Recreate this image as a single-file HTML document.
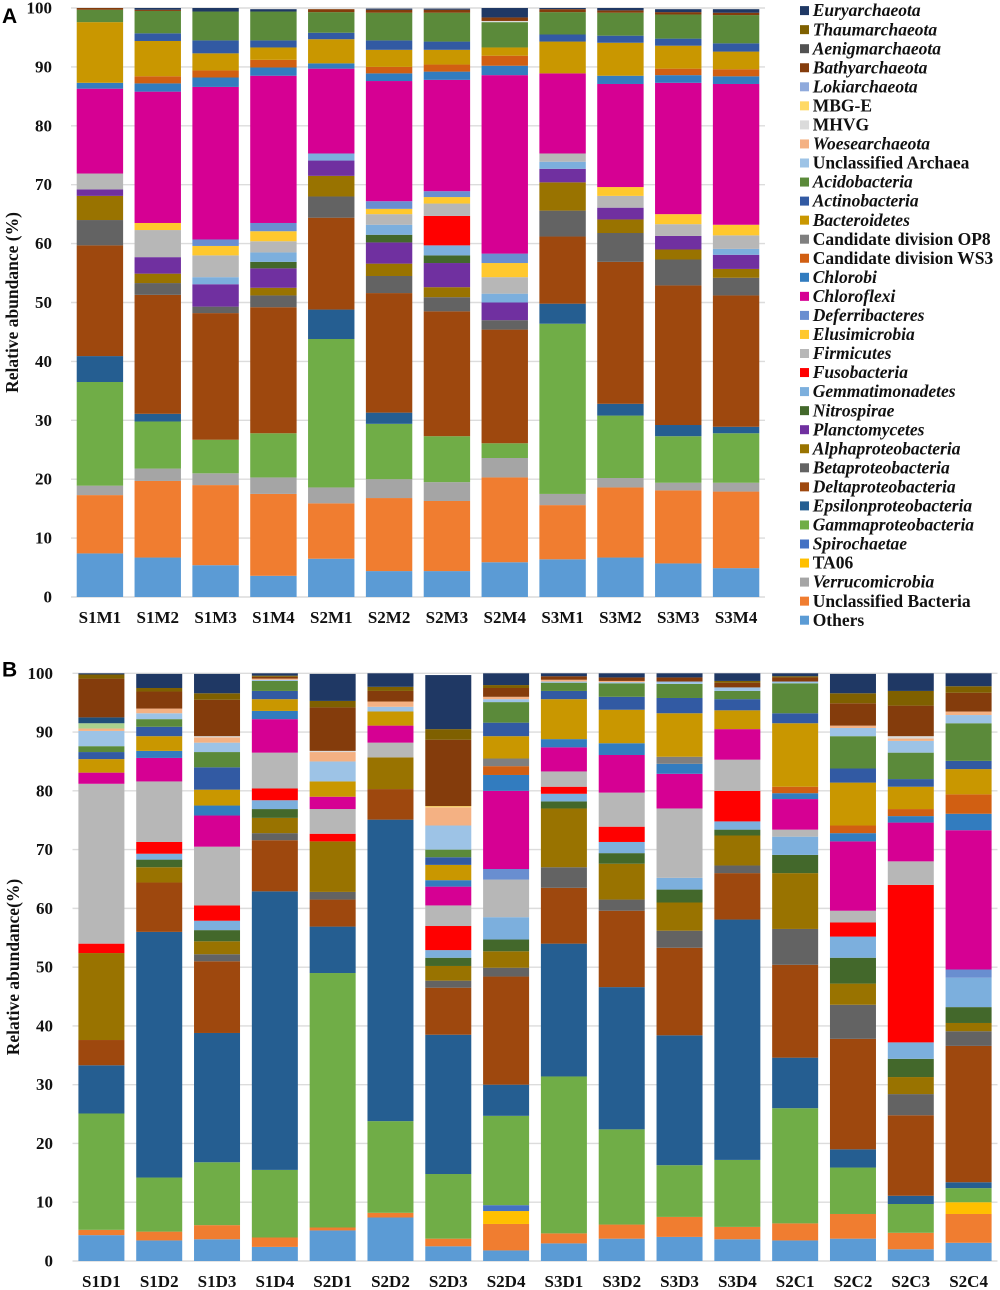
<!DOCTYPE html>
<html lang="en">
<head>
<meta charset="utf-8">
<title>Relative abundance stacked bars</title>
<style>
html,body{margin:0;padding:0;background:#fff;}
#chart{display:block;width:1000px;height:1290px;}
text{font-family:"Liberation Serif",serif;font-weight:bold;fill:#111;}
.panel{font-family:"Liberation Sans",sans-serif;font-size:21px;fill:#000;}
</style>
</head>
<body>
<svg id="chart" xmlns="http://www.w3.org/2000/svg" width="1000" height="1290" viewBox="0 0 1000 1290">
  <text class="panel" x="2" y="23">A</text>
  <text class="panel" x="2" y="676.5">B</text>
  <text transform="translate(18,302.5) rotate(-90)" text-anchor="middle" font-size="17.5">Relative abundance (%)</text>
  <text transform="translate(19,967) rotate(-90)" text-anchor="middle" font-size="17.5">Relative abundance(%)</text>
</svg>
<script>
// ---------- Shared labels ----------
const yTicks = [0, 10, 20, 30, 40, 50, 60, 70, 80, 90, 100];

const legendNames = ['Euryarchaeota','Thaumarchaeota','Aenigmarchaeota','Bathyarchaeota','Lokiarchaeota','MBG-E','MHVG','Woesearchaeota','Unclassified Archaea','Acidobacteria','Actinobacteria','Bacteroidetes','Candidate division OP8','Candidate division WS3','Chlorobi','Chloroflexi','Deferribacteres','Elusimicrobia','Firmicutes','Fusobacteria','Gemmatimonadetes','Nitrospirae','Planctomycetes','Alphaproteobacteria','Betaproteobacteria','Deltaproteobacteria','Epsilonproteobacteria','Gammaproteobacteria','Spirochaetae','TA06','Verrucomicrobia','Unclassified Bacteria','Others'];
const legendColors = ['#1f3864','#7f6000','#525252','#843c0c','#8faadc','#ffd966','#dbdbdb','#f4b183','#9dc3e6','#5b8a3a','#325aa3','#c99700','#7f7f7f','#d15f12','#327cbf','#d60093','#698ed0','#ffc82e','#b7b7b7','#ff0000','#7cafdd','#43682b','#7030a0','#997300','#636363','#9e480e','#255e91','#70ad47','#4472c4','#ffc000','#a5a5a5','#f07d30','#5b9bd5'];
const uprightNames = ['MBG-E','MHVG','Unclassified Archaea','Candidate division OP8','Candidate division WS3','TA06','Unclassified Bacteria','Others'];

// ---------- Panel A ----------
const samplesA = ['S1M1','S1M2','S1M3','S1M4','S2M1','S2M2','S2M3','S2M4','S3M1','S3M2','S3M3','S3M4'];
const aOthers = [7.4,6.7,5.4,3.6,6.5,4.4,4.4,5.9,6.4,6.7,5.7,4.9];
const aUnclassifiedBacteria = [9.9,13.0,13.6,13.9,9.4,12.4,11.9,14.4,9.2,11.9,12.4,13.0];
const aVerrucomicrobia = [1.6,2.1,2.0,2.8,2.7,3.2,3.2,3.3,1.9,1.6,1.3,1.5];
const aGamma = [17.6,8.0,5.7,7.5,25.2,9.4,7.8,2.5,28.9,10.6,7.9,8.4];
const aEpsilon = [4.4,1.3,0,0,5.0,1.9,0,0,3.4,2.0,1.9,1.1];
const aDelta = [18.8,20.2,21.5,21.4,15.6,20.3,21.2,19.3,11.4,24.1,23.7,22.3];
const aBeta = [4.3,2.0,1.1,2.0,3.6,2.9,2.4,1.6,4.4,4.9,4.4,3.0];
const aAlpha = [4.1,1.6,0,1.3,3.5,2.1,1.7,0,4.8,2.3,1.7,1.5];
const aPlanctomycetes = [1.1,2.8,3.8,3.3,2.6,3.6,4.1,3.0,2.3,2.0,2.3,2.4];
const aNitrospirae = [0,0,0,1.1,0,1.3,1.3,0,0,0,0,0];
const aGemmatimonadetes = [0,0,1.2,1.6,1.2,1.7,1.7,1.5,1.2,0,0,1.0];
const aFusobacteria = [0,0,0,0,0,0,5.0,0,0,0,0,0];
const aFirmicutes = [2.7,4.6,3.7,1.9,0,1.8,2.1,2.8,1.4,2.0,2.0,2.3];
const aElusimicrobia = [0,1.2,1.6,1.7,0,0.9,1.1,2.4,0,1.5,1.7,1.8];
const aDeferribacteres = [0,0,1.1,1.4,0,1.3,1.0,1.6,0,0,0,0];
const aChloroflexi = [14.4,22.3,25.9,25.0,14.4,20.4,18.9,30.3,13.6,17.5,22.3,23.9];
const aChlorobi = [1.0,1.4,1.6,1.4,0.9,1.3,1.4,1.6,0,1.4,1.3,1.3];
const aWS3 = [0,1.2,1.2,1.3,0,1.1,1.2,1.7,0,0,1.1,1.2];
const aBacteroidetes = [10.3,6.0,2.9,2.1,4.1,2.9,2.5,1.4,5.4,5.6,3.9,3.0];
const aActinobacteria = [0,1.3,2.2,1.2,1.1,1.6,1.4,0,1.2,1.2,1.2,1.4];
const aAcidobacteria = [2.1,3.8,4.9,4.9,3.5,4.7,4.9,4.3,3.8,3.9,4.1,4.8];
const aMHVG = [0,0,0,0,0,0,0,0.2,0,0,0,0];
const aBathyarchaeota = [0.3,0.2,0,0,0.5,0.5,0.5,0.6,0.5,0.4,0.4,0.4];
const aEuryarchaeota = [0,0.3,0.6,0.4,0,0.2,0.2,1.6,0.2,0.4,0.5,0.6];

// ---------- Panel B ----------
const samplesB = ['S1D1','S1D2','S1D3','S1D4','S2D1','S2D2','S2D3','S2D4','S3D1','S3D2','S3D3','S3D4','S2C1','S2C2','S2C3','S2C4'];
const bOthers = [4.4,3.5,3.7,2.4,5.2,7.4,2.5,1.8,3.0,3.8,4.1,3.7,3.5,3.8,2.0,3.1];
const bUnclassifiedBacteria = [0.9,1.5,2.4,1.6,0.5,0.8,1.3,4.5,1.7,2.4,3.4,2.1,2.9,4.2,2.8,4.9];
const bTA06 = [0,0,0,0,0,0,0,2.2,0,0,0,0,0,0,0,2.0];
const bSpirochaetae = [0,0,0,0,0,0,0,1.0,0,0,0,0,0,0,0,0];
const bGamma = [19.8,9.2,10.7,11.5,43.3,15.6,11.0,15.2,26.7,16.2,8.8,11.4,19.6,7.9,4.9,2.4];
const bEpsilon = [8.2,41.8,22.0,47.4,7.9,51.3,23.7,5.3,22.6,24.2,22.1,40.9,8.6,3.1,1.4,1.0];
const bDelta = [4.3,8.4,12.2,8.7,4.6,5.2,8.0,18.4,9.5,13.0,14.9,7.9,15.8,18.8,13.7,23.2];
const bBeta = [0,0,1.2,1.2,1.3,0,1.2,1.5,3.5,1.9,2.9,1.3,6.1,5.8,3.6,2.5];
const bAlpha = [14.8,2.6,2.2,2.6,8.6,5.4,2.5,2.8,10.0,6.1,4.8,5.1,9.5,3.6,2.9,1.4];
const bNitrospirae = [0,1.3,1.9,1.5,0,0,1.4,2.0,1.2,1.8,2.2,1.0,3.1,4.4,3.1,2.7];
const bGemmatimonadetes = [0,1.0,1.6,1.5,0,0,1.3,3.8,1.3,1.9,2.0,1.4,3.1,3.6,2.8,5.0];
const bFusobacteria = [1.6,2.0,2.6,2.0,1.3,0,4.1,0,1.2,2.6,0,5.2,0,2.4,26.8,0];
const bFirmicutes = [27.2,10.3,10.0,6.1,4.2,2.5,3.5,6.4,2.6,5.8,11.8,5.3,1.2,2.0,4.0,0];
const bDeferribacteres = [0,0,0,0,0,0,0,1.8,0,0,0,0,0,0,0,1.4];
const bChloroflexi = [1.9,4.0,5.3,5.7,2.1,2.9,3.2,13.3,4.1,6.4,5.9,5.2,5.2,11.8,6.6,23.7];
const bChlorobi = [0,1.2,1.7,1.4,0,0,1.1,2.7,1.4,2.0,1.7,0,1.0,1.4,1.1,2.8];
const bWS3 = [0,0,0,0,0,0,0,1.5,0,0,0,0,1.1,1.3,1.2,3.3];
const bOP8 = [0,0,0,0,0,0,0,1.3,0,0,1.2,0,0,0,0,0];
const bBacteroidetes = [2.3,2.5,2.7,2.0,2.6,2.4,2.6,3.8,6.8,5.7,7.4,3.2,10.8,7.3,3.8,4.3];
const bActinobacteria = [1.2,1.6,3.8,1.4,0,0,1.3,2.3,1.4,2.2,2.6,1.9,1.7,2.4,1.3,1.4];
const bAcidobacteria = [1.0,1.3,2.6,1.7,0,0,1.3,3.5,1.4,2.3,2.4,1.4,5.1,5.5,4.5,6.4];
const bUnclassifiedArchaea = [2.6,1.0,1.6,0.2,3.4,0.8,4.1,0.5,0.2,0.2,0.4,0.6,0.3,1.4,2.0,1.4];
const bWoesearchaeota = [0.4,0.8,0.9,0.2,1.6,0.9,3.1,0.4,0.3,0.2,0,0,0,0.4,0.4,0.6];
const bMHVG = [0,0,0.2,0,0.2,0,0,0,0,0,0,0,0,0,0.4,0];
const bPaleGreen = [0.9,0,0,0,0,0,0,0,0,0,0,0,0,0,0,0];
const bMBGE = [0,0,0,0,0,0,0.2,0,0,0,0,0,0,0,0,0];
const bDarkBlue = [1.0,0,0,0,0,0,0,0,0,0,0,0,0,0,0,0];
const bBathyarchaeota = [6.6,2.9,6.2,0.3,7.4,1.8,11.3,1.5,0.6,0.6,0.7,0.8,0.7,3.8,5.2,3.2];
const bThaumarchaeota = [0.7,0.6,1.1,0.2,1.1,0.7,1.8,0.5,0,0,0,0.3,0.2,1.7,2.5,1.1];
const bEuryarchaeota = [0.2,2.4,3.3,0.4,4.6,2.3,9.2,2.0,0.5,0.7,0.7,1.3,0.5,3.3,3.0,2.2];

// Stack order (bottom to top): taxon name followed by its values.
const stackA = [
  ['Others', aOthers], ['Unclassified Bacteria', aUnclassifiedBacteria], ['Verrucomicrobia', aVerrucomicrobia],
  ['Gammaproteobacteria', aGamma], ['Epsilonproteobacteria', aEpsilon], ['Deltaproteobacteria', aDelta],
  ['Betaproteobacteria', aBeta], ['Alphaproteobacteria', aAlpha], ['Planctomycetes', aPlanctomycetes],
  ['Nitrospirae', aNitrospirae], ['Gemmatimonadetes', aGemmatimonadetes], ['Fusobacteria', aFusobacteria],
  ['Firmicutes', aFirmicutes], ['Elusimicrobia', aElusimicrobia], ['Deferribacteres', aDeferribacteres],
  ['Chloroflexi', aChloroflexi], ['Chlorobi', aChlorobi], ['Candidate division WS3', aWS3],
  ['Bacteroidetes', aBacteroidetes], ['Actinobacteria', aActinobacteria], ['Acidobacteria', aAcidobacteria],
  ['MHVG', aMHVG], ['Bathyarchaeota', aBathyarchaeota], ['Euryarchaeota', aEuryarchaeota]
];
const stackB = [
  ['Others', bOthers], ['Unclassified Bacteria', bUnclassifiedBacteria], ['TA06', bTA06], ['Spirochaetae', bSpirochaetae],
  ['Gammaproteobacteria', bGamma], ['Epsilonproteobacteria', bEpsilon], ['Deltaproteobacteria', bDelta],
  ['Betaproteobacteria', bBeta], ['Alphaproteobacteria', bAlpha], ['Nitrospirae', bNitrospirae],
  ['Gemmatimonadetes', bGemmatimonadetes], ['Fusobacteria', bFusobacteria], ['Firmicutes', bFirmicutes],
  ['Deferribacteres', bDeferribacteres], ['Chloroflexi', bChloroflexi], ['Chlorobi', bChlorobi],
  ['Candidate division WS3', bWS3], ['Candidate division OP8', bOP8], ['Bacteroidetes', bBacteroidetes],
  ['Actinobacteria', bActinobacteria], ['Acidobacteria', bAcidobacteria], ['Unclassified Archaea', bUnclassifiedArchaea],
  ['Woesearchaeota', bWoesearchaeota], ['MHVG', bMHVG], ['unlisted-pale-green', bPaleGreen], ['MBG-E', bMBGE],
  ['unlisted-dark-blue', bDarkBlue], ['Bathyarchaeota', bBathyarchaeota], ['Thaumarchaeota', bThaumarchaeota],
  ['Euryarchaeota', bEuryarchaeota]
];

// ---------- Rendering ----------
const svg = document.getElementById('chart');
const NS = 'http://www.w3.org/2000/svg';

function colorOf(name) {
  if (name === 'unlisted-pale-green') return '#a9d18e';
  if (name === 'unlisted-dark-blue') return '#1f4e79';
  return legendColors[legendNames.indexOf(name)];
}

function slug(s) {
  return s.toLowerCase().replace(/[^a-z0-9]+/g, '-');
}

function drawPanel(id, samples, stack, frame) {
  const yScale = v => frame.y0 - v * frame.unit;
  const step = (frame.x1 - frame.x0) / samples.length;
  const xBand = i => frame.x0 + i * step + (step - frame.barWidth) / 2;

  yTicks.forEach(t => {
    const line = document.createElementNS(NS, 'line');
    
    
    line.setAttribute('x1', frame.x0);
    line.setAttribute('x2', frame.x1);
    line.setAttribute('y1', yScale(t));
    line.setAttribute('y2', yScale(t));
    line.setAttribute('stroke', '#dcdcdc');
    line.setAttribute('stroke-width', '1.4');
    svg.appendChild(line);

    const label = document.createElementNS(NS, 'text');
    
    
    label.setAttribute('x', frame.tickX);
    label.setAttribute('y', yScale(t) + 5.5);
    label.setAttribute('text-anchor', 'end');
    label.setAttribute('font-size', '17');
    label.textContent = t;
    svg.appendChild(label);
  });

  samples.forEach((sample, i) => {
    let running = 0;
    stack.forEach(entry => {
      const value = entry[1][i];
      if (value > 0) {
        const rect = document.createElementNS(NS, 'rect');
        
        
        rect.setAttribute('x', xBand(i));
        rect.setAttribute('width', frame.barWidth);
        rect.setAttribute('y', yScale(running + value));
        rect.setAttribute('height', yScale(running) - yScale(running + value));
        rect.setAttribute('fill', colorOf(entry[0]));
        svg.appendChild(rect);
        running += value;
      }
    });

    const label = document.createElementNS(NS, 'text');
    
    
    label.setAttribute('x', xBand(i) + frame.barWidth / 2);
    label.setAttribute('y', frame.labelY);
    label.setAttribute('text-anchor', 'middle');
    label.setAttribute('font-size', '17');
    label.textContent = sample;
    svg.appendChild(label);
  });
}

drawPanel('panel-a', samplesA, stackA, {x0: 71, x1: 765, y0: 597, unit: 5.89, barWidth: 46.4, tickX: 52, labelY: 623});
drawPanel('panel-b', samplesB, stackB, {x0: 72.5, x1: 997.5, y0: 1261, unit: 5.877, barWidth: 46, tickX: 53, labelY: 1287});

legendNames.forEach((name, i) => {
  const rowY = 10.6 + i * 19.05;

  const swatch = document.createElementNS(NS, 'rect');
  
  
  swatch.setAttribute('x', 800);
  swatch.setAttribute('y', rowY - 4.5);
  swatch.setAttribute('width', 9);
  swatch.setAttribute('height', 9);
  swatch.setAttribute('fill', legendColors[i]);
  svg.appendChild(swatch);

  const label = document.createElementNS(NS, 'text');
  
  
  label.setAttribute('x', 812.7);
  label.setAttribute('y', rowY + 5.6);
  label.setAttribute('font-size', '17.5');
  label.setAttribute('font-style', uprightNames.includes(name) ? 'normal' : 'italic');
  label.textContent = name;
  svg.appendChild(label);
});
</script>
</body>
</html>
